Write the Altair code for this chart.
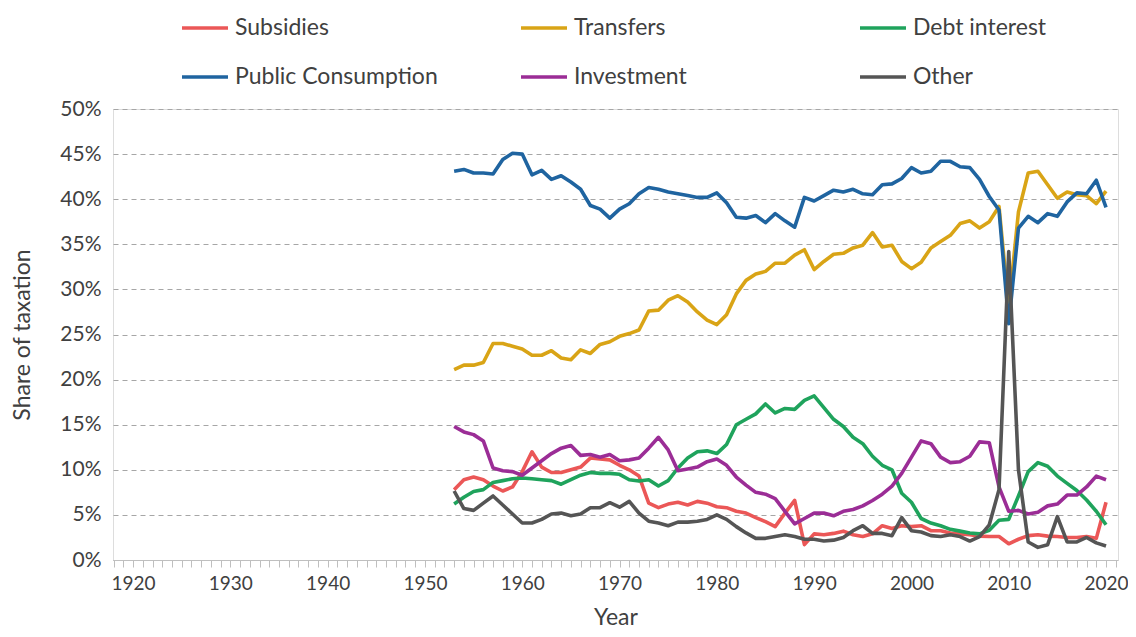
import altair as alt
import pandas as pd

years = list(range(1953, 2021))

series_names = ["Subsidies", "Transfers", "Debt interest",
                "Public Consumption", "Investment", "Other"]
series_colors = ["#EB5757", "#D9A416", "#1FA35C", "#1F64A0", "#9B2D96", "#555555"]

subsidies = [7.8, 8.9, 9.2, 8.9, 8.2, 7.65, 8.1, 9.8, 12.0, 10.3,
             9.7, 9.7, 10.0, 10.3, 11.3, 11.2, 11.1, 10.5, 10.0, 9.3,
             6.3, 5.8, 6.2, 6.4, 6.1, 6.5, 6.3, 5.9, 5.8, 5.4,
             5.2, 4.7, 4.25, 3.7, 5.2, 6.6, 1.7, 2.9, 2.8, 2.95,
             3.2, 2.8, 2.6, 2.9, 3.8, 3.5, 3.8, 3.7, 3.8, 3.25,
             3.25, 3.0, 2.9, 2.8, 2.65, 2.6, 2.6, 1.8, 2.3, 2.7,
             2.8, 2.65, 2.6, 2.5, 2.5, 2.6, 2.4, 6.4]

transfers = [21.1, 21.6, 21.6, 21.9, 24.0, 24.0, 23.7, 23.4, 22.7, 22.7,
             23.2, 22.4, 22.2, 23.3, 22.9, 23.9, 24.2, 24.8, 25.1, 25.5,
             27.6, 27.7, 28.8, 29.3, 28.6, 27.5, 26.6, 26.1, 27.2, 29.5,
             31.0, 31.7, 32.0, 32.9, 32.9, 33.8, 34.4, 32.2, 33.1, 33.9,
             34.0, 34.6, 34.9, 36.3, 34.7, 34.9, 33.1, 32.3, 33.0, 34.6,
             35.3, 36.0, 37.3, 37.6, 36.8, 37.5, 39.2, 28.0, 38.6, 42.9,
             43.1, 41.6, 40.1, 40.8, 40.5, 40.4, 39.5, 40.9]

debt_interest = [6.2, 6.95, 7.6, 7.8, 8.6, 8.8, 9.0, 9.1, 9.0, 8.9,
                 8.8, 8.4, 8.9, 9.4, 9.7, 9.6, 9.6, 9.5, 8.9, 8.75,
                 8.9, 8.2, 8.8, 10.2, 11.3, 12.0, 12.1, 11.8, 12.8, 15.0,
                 15.6, 16.2, 17.3, 16.3, 16.8, 16.7, 17.7, 18.2, 16.9, 15.6,
                 14.8, 13.6, 12.9, 11.5, 10.5, 10.0, 7.4, 6.4, 4.6, 4.1,
                 3.8, 3.4, 3.2, 3.0, 2.9, 3.3, 4.4, 4.5, 7.1, 9.8,
                 10.8, 10.4, 9.3, 8.5, 7.7, 6.65, 5.4, 3.9]

public_consumption = [43.1, 43.3, 42.9, 42.9, 42.8, 44.4, 45.1, 45.0, 42.7, 43.2,
                      42.2, 42.6, 41.9, 41.1, 39.3, 38.9, 37.9, 38.9, 39.5, 40.6,
                      41.3, 41.1, 40.8, 40.6, 40.4, 40.2, 40.2, 40.7, 39.6, 38.0,
                      37.9, 38.2, 37.4, 38.4, 37.6, 36.9, 40.2, 39.8, 40.4, 41.0,
                      40.8, 41.1, 40.6, 40.5, 41.6, 41.7, 42.3, 43.5, 42.9, 43.1,
                      44.2, 44.2, 43.6, 43.5, 42.2, 40.3, 38.8, 26.2, 36.8, 38.1,
                      37.4, 38.4, 38.1, 39.7, 40.7, 40.6, 42.1, 39.1]

investment = [14.8, 14.2, 13.9, 13.2, 10.2, 9.9, 9.8, 9.4, 10.2, 11.0,
              11.8, 12.4, 12.7, 11.6, 11.7, 11.4, 11.7, 11.0, 11.1, 11.3,
              12.4, 13.6, 12.2, 9.9, 10.1, 10.3, 10.9, 11.2, 10.5, 9.2,
              8.3, 7.5, 7.3, 6.8, 5.4, 4.0, 4.6, 5.2, 5.2, 4.9,
              5.4, 5.6, 6.0, 6.6, 7.3, 8.2, 9.6, 11.4, 13.2, 12.9,
              11.4, 10.8, 10.9, 11.5, 13.1, 13.0, 8.1, 5.4, 5.5, 5.1,
              5.3, 6.0, 6.2, 7.2, 7.2, 8.1, 9.3, 8.9]

other = [7.65, 5.7, 5.5, 6.3, 7.1, 6.1, 5.1, 4.1, 4.1, 4.5,
         5.1, 5.2, 4.9, 5.1, 5.8, 5.8, 6.35, 5.85, 6.5, 5.2,
         4.3, 4.1, 3.8, 4.2, 4.2, 4.3, 4.5, 5.0, 4.5, 3.7,
         3.0, 2.4, 2.4, 2.6, 2.8, 2.6, 2.3, 2.3, 2.1, 2.2,
         2.5, 3.25, 3.8, 2.95, 2.95, 2.7, 4.7, 3.25, 3.1, 2.7,
         2.6, 2.8, 2.6, 2.1, 2.6, 3.9, 7.8, 34.2, 10.0, 2.0,
         1.4, 1.7, 4.8, 2.0, 2.0, 2.5, 1.9, 1.55]

y_ticks = [0, 5, 10, 15, 20, 25, 30, 35, 40, 45, 50]
x_ticks = list(range(1918, 2022))

all_series = [subsidies, transfers, debt_interest, public_consumption, investment, other]

rows = []
for name, vals in zip(series_names, all_series):
    for yr, v in zip(years, vals):
        rows.append({"Year": yr, "Value": v, "Series": name})
df = pd.DataFrame(rows)

FONT = "Lato"
TXT = "#404040"

chart = alt.Chart(df).mark_line(strokeWidth=3.6, strokeJoin="round").encode(
    x=alt.X("Year:Q",
            scale=alt.Scale(domain=[1917.94, 2021.23], nice=False, zero=False),
            axis=alt.Axis(values=x_ticks,
                          labelExpr="datum.value % 10 == 0 ? datum.label : ''",
                          format="d", grid=False, tickSize=7, tickColor="#bfbfbf",
                          domainColor="#bfbfbf", labelFontSize=19, labelFont=FONT,
                          labelColor=TXT, labelPadding=7, labelOverlap=False,
                          title="Year", titleFont=FONT, titleFontSize=23,
                          titleFontWeight="normal", titleColor=TXT,
                          titleY=57, titleBaseline="middle")),
    y=alt.Y("Value:Q",
            scale=alt.Scale(domain=[0, 50], nice=False),
            axis=alt.Axis(values=y_ticks, labelExpr="datum.value + '%'",
                          grid=True, gridDash=[5, 4], gridColor="#a6a6a6",
                          gridWidth=1, domain=False, ticks=False,
                          labelFontSize=21, labelFont=FONT, labelColor=TXT,
                          labelPadding=12,
                          title="Share of taxation", titleFont=FONT,
                          titleFontSize=23, titleFontWeight="normal",
                          titleColor=TXT, titleX=-91, titleBaseline="middle")),
    color=alt.Color("Series:N",
                    scale=alt.Scale(domain=series_names, range=series_colors),
                    sort=series_names,
                    legend=alt.Legend(orient="none", legendX=67, legendY=-106,
                                      columns=3, direction="horizontal",
                                      symbolType="stroke", symbolSize=2116,
                                      symbolStrokeWidth=3.6, labelFontSize=23,
                                      labelFont=FONT, labelColor=TXT,
                                      labelOffset=5, labelLimit=400, title=None,
                                      gridAlign="all", columnPadding=75,
                                      rowPadding=12, padding=0)),
).properties(
    width=1005,
    height=451,
    autosize=alt.AutoSizeParams(type="none"),
    padding={"left": 105, "top": 101, "right": 10, "bottom": 69},
).configure_view(stroke=None).configure(background="white")

chart.save("out.html", embed_options={"renderer": "svg", "actions": False})
